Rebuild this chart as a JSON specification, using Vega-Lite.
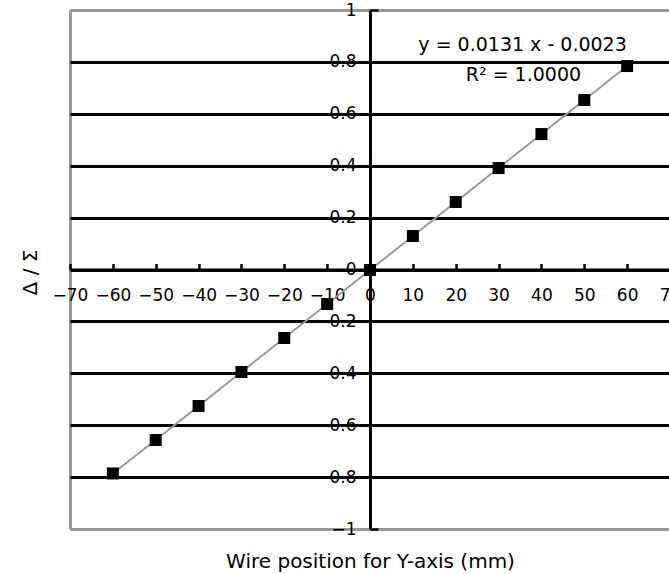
{
  "$schema": "https://vega.github.io/schema/vega-lite/v6.json",
  "width": 600,
  "height": 519,
  "autosize": {"type": "none"},
  "padding": {"left": 70, "top": 10, "right": 0, "bottom": 45},
  "background": "white",
  "config": {"view": {"stroke": null}, "font": "DejaVu Sans"},
  "data": {
    "values": [
      {"x": -60, "y": -0.786},
      {"x": -50, "y": -0.657},
      {"x": -40, "y": -0.526},
      {"x": -30, "y": -0.395},
      {"x": -20, "y": -0.264},
      {"x": -10, "y": -0.133},
      {"x": 0, "y": -0.002},
      {"x": 10, "y": 0.129},
      {"x": 20, "y": 0.26},
      {"x": 30, "y": 0.391},
      {"x": 40, "y": 0.522},
      {"x": 50, "y": 0.653},
      {"x": 60, "y": 0.784}
    ]
  },
  "layer": [
    {
      "mark": {"type": "line", "color": "#999999", "strokeWidth": 2},
      "encoding": {
        "x": {
          "field": "x",
          "type": "quantitative",
          "scale": {"domain": [-70, 70], "nice": false, "zero": false},
          "axis": {
            "orient": "bottom",
            "offset": -259.5,
            "values": [-70, -60, -50, -40, -30, -20, -10, 0, 10, 20, 30, 40, 50, 60, 70],
            "format": "d",
            "domainColor": "black",
            "domainWidth": 3,
            "tickColor": "black",
            "tickSize": -6,
            "tickWidth": 2.5,
            "labelFont": "DejaVu Sans",
            "labelFontSize": 17,
            "labelColor": "black",
            "labelPadding": 24,
            "labelFlush": false,
            "labelOverlap": false,
            "labelBound": false,
            "grid": true,
            "gridColor": "#999999",
            "gridWidth": 3,
            "gridOpacity": {"condition": {"test": "datum.value == -70", "value": 1}, "value": 0},
            "title": "Wire position for Y-axis (mm)",
            "titleFont": "DejaVu Sans",
            "titleFontSize": 20,
            "titleFontWeight": "normal",
            "titleColor": "black",
            "titleX": 300,
            "titleY": 292,
            "titleBaseline": "middle",
            "titleAlign": "center"
          }
        },
        "y": {
          "field": "y",
          "type": "quantitative",
          "scale": {"domain": [-1, 1], "nice": false, "zero": false},
          "axis": {
            "orient": "left",
            "offset": -300,
            "values": [-1, -0.8, -0.6, -0.4, -0.2, 0, 0.2, 0.4, 0.6, 0.8, 1],
            "format": "~g",
            "domainColor": "black",
            "domainWidth": 3,
            "tickColor": "black",
            "tickSize": -8,
            "tickWidth": 2.5,
            "labelFont": "DejaVu Sans",
            "labelFontSize": 17,
            "labelColor": "black",
            "labelPadding": 22,
            "labelFlush": false,
            "labelOverlap": false,
            "labelBound": false,
            "grid": true,
            "gridColor": {"condition": {"test": "abs(datum.value) > 0.99", "value": "#999999"}, "value": "black"},
            "gridWidth": 3,
            "title": "Δ / Σ",
            "titleFont": "DejaVu Sans",
            "titleFontSize": 20,
            "titleFontWeight": "normal",
            "titleColor": "black",
            "titleAngle": -90,
            "titleX": -340,
            "titleY": 262,
            "titleBaseline": "middle",
            "titleAlign": "center"
          }
        }
      }
    },
    {
      "mark": {"type": "square", "color": "black", "opacity": 1, "size": 144},
      "encoding": {
        "x": {"field": "x", "type": "quantitative"},
        "y": {"field": "y", "type": "quantitative"}
      }
    },
    {
      "data": {
        "values": [
          {"tx": 35.6, "ty": 0.865, "label": "y = 0.0131 x - 0.0023"},
          {"tx": 35.8, "ty": 0.75, "label": "R² = 1.0000"}
        ]
      },
      "mark": {"type": "text", "fontSize": 19, "font": "DejaVu Sans", "color": "black", "align": "center", "baseline": "middle"},
      "encoding": {
        "x": {"field": "tx", "type": "quantitative"},
        "y": {"field": "ty", "type": "quantitative"},
        "text": {"field": "label"}
      }
    }
  ]
}
